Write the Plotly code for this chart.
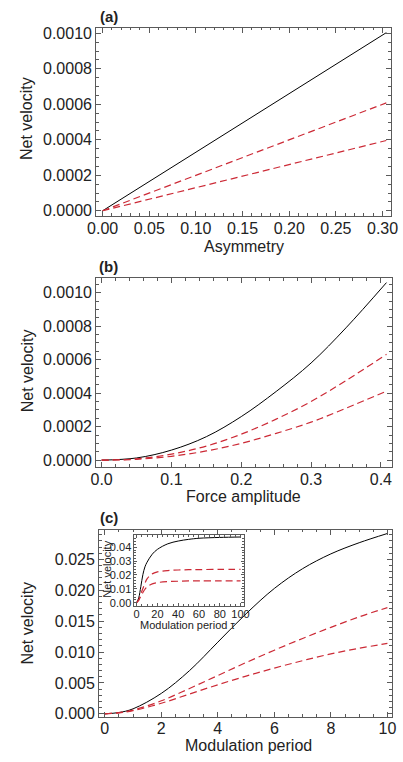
import plotly.graph_objects as go

# ---- data -------------------------------------------------------------
# (a) net velocity vs asymmetry
asym = [0.0, 0.10, 0.20, 0.304]
v_a_solid = [0.0, 0.00033, 0.00066, 0.001004]
v_a_dash1 = [0.0, 0.0002, 0.0004, 0.000608]
v_a_dash2 = [0.0, 0.00013, 0.00026, 0.000396]

# (b) net velocity vs force amplitude
force = [0.0, 0.05, 0.10, 0.15, 0.20, 0.25, 0.30, 0.35, 0.408]
v_b_solid = [0.0, 0.000013, 0.00006, 0.00014, 0.00026, 0.00041, 0.00058, 0.00079, 0.00106]
v_b_dash1 = [0.0, 0.000008, 0.000036, 0.000084, 0.000155, 0.000245, 0.00035, 0.000475, 0.000632]
v_b_dash2 = [0.0, 0.000005, 0.000023, 0.000055, 0.0001, 0.00016, 0.000227, 0.00031, 0.000412]

# (c) net velocity vs modulation period
period = [0, 0.5, 1, 2, 3, 4, 5, 6, 7, 8, 9, 10]
v_c_solid = [0.0, 0.0002, 0.0008, 0.0033, 0.0070, 0.0116, 0.0162, 0.0203, 0.0235, 0.0259, 0.0277, 0.0292]
v_c_dash1 = [0.0, 0.0002, 0.0006, 0.0021, 0.0041, 0.0062, 0.0083, 0.0103, 0.0122, 0.0140, 0.0157, 0.0172]
v_c_dash2 = [0.0, 0.00015, 0.0005, 0.0017, 0.0032, 0.0047, 0.0061, 0.0074, 0.0086, 0.0097, 0.0106, 0.0114]

# inset: long modulation periods
tau = [0, 2, 4, 6, 8, 10, 15, 20, 30, 40, 50, 60, 80, 100]
v_in_solid = [0.0, 0.0035, 0.0116, 0.0203, 0.0259, 0.0292, 0.035, 0.0385, 0.0425, 0.0445, 0.0457, 0.0465, 0.0471, 0.0474]
v_in_dash1 = [0.0, 0.0021, 0.0062, 0.0103, 0.0140, 0.0172, 0.0208, 0.0222, 0.0232, 0.0236, 0.0238, 0.0239, 0.024, 0.024]
v_in_dash2 = [0.0, 0.0017, 0.0047, 0.0074, 0.0097, 0.0114, 0.0136, 0.0145, 0.0152, 0.0155, 0.0157, 0.0157, 0.0158, 0.0158]

# ---- styling ----------------------------------------------------------
W, H = 403, 762
FONT = "Liberation Sans, Arial, sans-serif"
TXT = "#222222"
FRAME = "#5a5a5a"
RED = "#cc2a36"


def px_x(a, b):
    return [a / W, b / W]


def px_y(top, bottom):
    return [1 - bottom / H, 1 - top / H]


fig = go.Figure()

panels = [
    ("x", "y", asym, (v_a_solid, v_a_dash1, v_a_dash2)),
    ("x2", "y2", force, (v_b_solid, v_b_dash1, v_b_dash2)),
    ("x3", "y3", period, (v_c_solid, v_c_dash1, v_c_dash2)),
    ("x4", "y4", tau, (v_in_solid, v_in_dash1, v_in_dash2)),
]
for i, (xa, ya, xs, (s0, s1, s2)) in enumerate(panels):
    shape = "linear" if i == 0 else "spline"
    fig.add_trace(go.Scatter(x=xs, y=s0, xaxis=xa, yaxis=ya, mode="lines",
                             line=dict(color="black", width=1, shape=shape, smoothing=1.0)))
    for s in (s1, s2):
        fig.add_trace(go.Scatter(x=xs, y=s, xaxis=xa, yaxis=ya, mode="lines",
                                 line=dict(color=RED, width=1.2, dash="7px,4px",
                                           shape=shape, smoothing=1.0)))


def axis(domain, rng, dtick, fmt, minor, size=16, anchor=None, standoff=0):
    return dict(domain=domain, range=rng, tick0=0, dtick=dtick, tickformat=fmt,
                showline=True, linecolor=FRAME, linewidth=1, mirror="allticks",
                ticks="inside", ticklen=5, tickwidth=1, tickcolor=FRAME,
                minor=dict(dtick=minor, ticks="inside", ticklen=2.5, tickcolor=FRAME, tickwidth=1),
                showgrid=False, zeroline=False, anchor=anchor,
                ticklabelstandoff=standoff,
                tickfont=dict(family=FONT, size=size, color=TXT))


fig.update_layout(
    width=W, height=H,
    margin=dict(l=0, r=0, t=0, b=0),
    paper_bgcolor="white", plot_bgcolor="white",
    showlegend=False,
    font=dict(family=FONT, color=TXT),
    xaxis=axis(px_x(91, 398.5), [-0.0069, 0.3087], 0.05, ".2f", 0.01, anchor="y", standoff=-2),
    yaxis=axis(px_y(25, 215), [-0.000028, 0.0010318], 0.0002, ".4f", 0.00005, anchor="x"),
    xaxis2=axis(px_x(91, 399.5), [-0.0078, 0.4154], 0.1, ".1f", 0.02, anchor="y2", standoff=-2),
    yaxis2=axis(px_y(278, 468.5), [-0.0000384, 0.001087], 0.0002, ".4f", 0.00005, anchor="x2"),
    xaxis3=axis(px_x(94, 399.5), [-0.203, 10.15], 2, "d", 0.5, anchor="y3", standoff=-3),
    yaxis3=axis(px_y(532.5, 721.5), [-0.00051, 0.02978], 0.005, ".3f", 0.001, anchor="x3"),
    xaxis4=axis(px_x(131, 245), [-2.1, 103.0], 20, "d", 5, size=11, anchor="y4", standoff=-2),
    yaxis4=axis(px_y(538, 609), [-0.0021, 0.0486], 0.01, ".2f", 0.002, size=11, anchor="x4"),
)
for ax in ("xaxis4", "yaxis4"):
    fig.layout[ax].ticklen = 3
    fig.layout[ax].minor.ticklen = 1.5


def label(text, x, y, size=16, angle=0, bold=False):
    fig.add_annotation(text=f"<b>{text}</b>" if bold else text,
                       x=x / W, y=1 - y / H, xref="paper", yref="paper",
                       showarrow=False, textangle=angle,
                       xanchor="center", yanchor="middle",
                       font=dict(family=FONT, size=size, color=TXT))


# panel tags
label("(a)", 104, 14, size=15, bold=True)
label("(b)", 104, 266, size=15, bold=True)
label("(c)", 104, 520, size=15, bold=True)

# axis titles
label("Net velocity", 19, 117, angle=-90)
label("Asymmetry", 245, 246)
label("Net velocity", 19, 372, angle=-90)
label("Force amplitude", 245, 499)
label("Net velocity", 19, 627, angle=-90)
label("Modulation period", 250, 750)
label("Net velocity", 102, 572, size=11, angle=-90)
label("Modulation period τ", 187, 629, size=11)

fig.write_html("out.html")
